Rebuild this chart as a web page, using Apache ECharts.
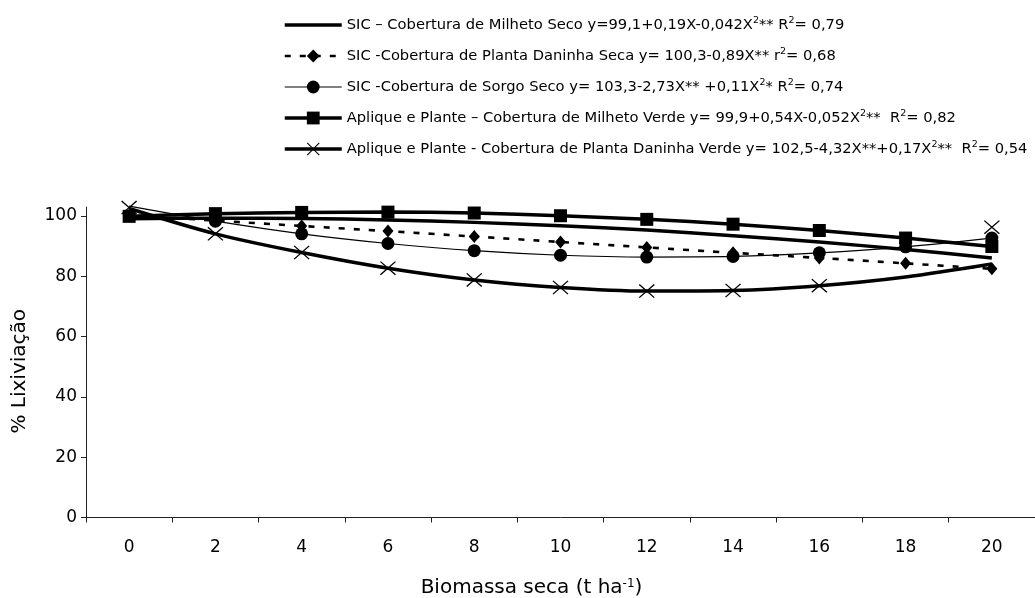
<!DOCTYPE html>
<html>
<head>
<meta charset="utf-8">
<script src="https://cdn.jsdelivr.net/npm/echarts@6/dist/echarts.min.js"></script>
<style>
html,body{margin:0;padding:0;background:#fff;}
#chart{width:1035px;height:598px;}
</style>
</head>
<body>
<div id="chart"></div>
<script>
// ---- data ----
const categories = ['0','2','4','6','8','10','12','14','16','18','20'];
const yTicks = [0, 20, 40, 60, 80, 100];

const seriesNames = [
  'SIC – Cobertura de Milheto Seco',
  'SIC -Cobertura de Planta Daninha Seca',
  'SIC -Cobertura de Sorgo Seco',
  'Aplique e Plante – Cobertura de Milheto Verde',
  'Aplique e Plante - Cobertura de Planta Daninha Verde'
];
const legendLabels = [
  'SIC – Cobertura de Milheto Seco y=99,1+0,19X-0,042X{s|2}** R{s|2}= 0,79',
  'SIC -Cobertura de Planta Daninha Seca y= 100,3-0,89X** r{s|2}= 0,68',
  'SIC -Cobertura de Sorgo Seco y= 103,3-2,73X** +0,11X{s|2}* R{s|2}= 0,74',
  'Aplique e Plante – Cobertura de Milheto Verde y= 99,9+0,54X-0,052X{s|2}**  R{s|2}= 0,82',
  'Aplique e Plante - Cobertura de Planta Daninha Verde y= 102,5-4,32X**+0,17X{s|2}**  R{s|2}= 0,54'
];

// fitted curves (lines)
const milhetoSeco   = [99.1, 99.3, 99.2, 98.7, 97.9, 96.8, 95.4, 93.5, 91.4, 88.9, 86.1];
const daninhaSeca   = [100.3, 98.5, 96.7, 95.0, 93.2, 91.4, 89.6, 87.8, 86.1, 84.3, 82.5];
const sorgoSeco     = [103.3, 98.3, 94.1, 90.9, 88.5, 87.0, 86.4, 86.6, 87.8, 89.8, 92.7];
const milhetoVerde  = [99.9, 100.8, 101.2, 101.3, 101.0, 100.1, 98.9, 97.3, 95.2, 92.7, 89.9];
const daninhaVerde  = [102.5, 94.1, 87.9, 82.7, 78.8, 76.3, 75.1, 75.3, 76.9, 79.8, 84.1];

// plotted markers
const daninhaSecaPts  = [100.3, 98.5, 96.7, 95.0, 93.2, 91.4, 89.6, 87.8, 86.1, 84.3, 82.5];
const sorgoSecoPts    = [null, 98.3, 94.1, 90.9, 88.5, 87.0, 86.4, 86.6, 87.8, 89.8, 92.7];
const milhetoVerdePts = [99.9, 100.8, 101.2, 101.3, 101.0, 100.1, 98.9, 97.3, 95.2, 92.7, 89.9];
const daninhaVerdePts = [102.8, 94.1, 87.9, 82.7, 78.8, 76.3, 75.1, 75.3, 76.9, null, 96.3];

// ---- chart ----
const FONT = 'DejaVu Sans';
const crossPath = 'path://M0,0.6L0.6,0L10,9.4L9.4,10ZM9.4,0L10,0.6L0.6,10L0,9.4Z';
const chart = echarts.init(document.getElementById('chart'), null, {renderer: 'canvas'});

const lineW = [3.5, 2.6, 1.2, 3.5, 3.5];
const lineT = ['solid', [6, 9], 'solid', 'solid', 'solid'];

function lineSeries(i, data, symbol) {
  return {
    name: seriesNames[i], type: 'line', data: data, smooth: 0.3,
    symbol: symbol, showSymbol: false, clip: false, silent: true,
    lineStyle: {color: '#000', width: lineW[i], type: lineT[i]},
    itemStyle: {color: '#000'},
    emphasis: {disabled: true}
  };
}
function markerSeries(data, symbol, size) {
  return {
    name: 'pts', type: 'scatter', data: data, symbol: symbol, symbolSize: size,
    clip: false, silent: true,
    itemStyle: {color: '#000', opacity: 1},
    emphasis: {disabled: true}
  };
}

const legendData = seriesNames.map(function (n, i) {
  const d = {name: n, lineStyle: {color: '#000', width: lineW[i], type: lineT[i]}, itemStyle: {color: '#000'}};
  if (i === 0) d.icon = 'path://M0,0H57V3.5H0Z';
  return d;
});

const option = {
  animation: false,
  backgroundColor: '#fff',
  textStyle: {fontFamily: FONT, color: '#000'},
  grid: {left: 86, right: 0, top: 207, bottom: 80.5, containLabel: false, outerBoundsMode: 'none'},
  legend: {
    orient: 'vertical', left: 283, top: 16, padding: 0,
    itemWidth: 57, itemHeight: 16, itemGap: 13,
    data: legendData,
    selectedMode: false,
    formatter: function (n) { return legendLabels[seriesNames.indexOf(n)]; },
    textStyle: {
      fontFamily: FONT, fontSize: 14.7, color: '#000', lineHeight: 18,
      rich: {s: {fontFamily: FONT, fontSize: 9.5, lineHeight: 10, verticalAlign: 'top', color: '#000'}}
    }
  },
  xAxis: {
    type: 'category', data: categories, boundaryGap: true,
    name: 'Biomassa seca (t ha{s|-1})', nameLocation: 'middle', nameGap: 60,
    nameTextStyle: {fontFamily: FONT, fontSize: 20, color: '#000', padding: [0, 58, 0, 0],
      rich: {s: {fontFamily: FONT, fontSize: 12, verticalAlign: 'top', lineHeight: 12, color: '#000'}}},
    axisLine: {lineStyle: {color: '#222', width: 1}},
    axisTick: {show: true, length: 5, lineStyle: {color: '#222'}},
    axisLabel: {fontFamily: FONT, fontSize: 17, color: '#000', margin: 22},
    splitLine: {show: false}
  },
  yAxis: {
    type: 'value', min: 0, max: 103,
    name: '% Lixiviação', nameLocation: 'middle', nameGap: 56,
    nameTextStyle: {fontFamily: FONT, fontSize: 20, color: '#000', padding: [0, 18, 0, 0]},
    axisLine: {show: true, lineStyle: {color: '#222', width: 1}},
    axisTick: {show: true, length: 5, lineStyle: {color: '#222'}, customValues: yTicks},
    axisLabel: {fontFamily: FONT, fontSize: 17, color: '#000', margin: 9, customValues: yTicks},
    splitLine: {show: false}
  },
  series: [
    lineSeries(0, milhetoSeco, 'none'),
    lineSeries(1, daninhaSeca, 'diamond'),
    markerSeries(daninhaSecaPts, 'diamond', [11, 13]),
    lineSeries(2, sorgoSeco, 'circle'),
    markerSeries(sorgoSecoPts, 'circle', 13),
    lineSeries(3, milhetoVerde, 'rect'),
    markerSeries(milhetoVerdePts, 'rect', 13),
    lineSeries(4, daninhaVerde, crossPath),
    markerSeries(daninhaVerdePts, crossPath, [16, 14])
  ]
};
chart.setOption(option);
</script>
</body>
</html>
